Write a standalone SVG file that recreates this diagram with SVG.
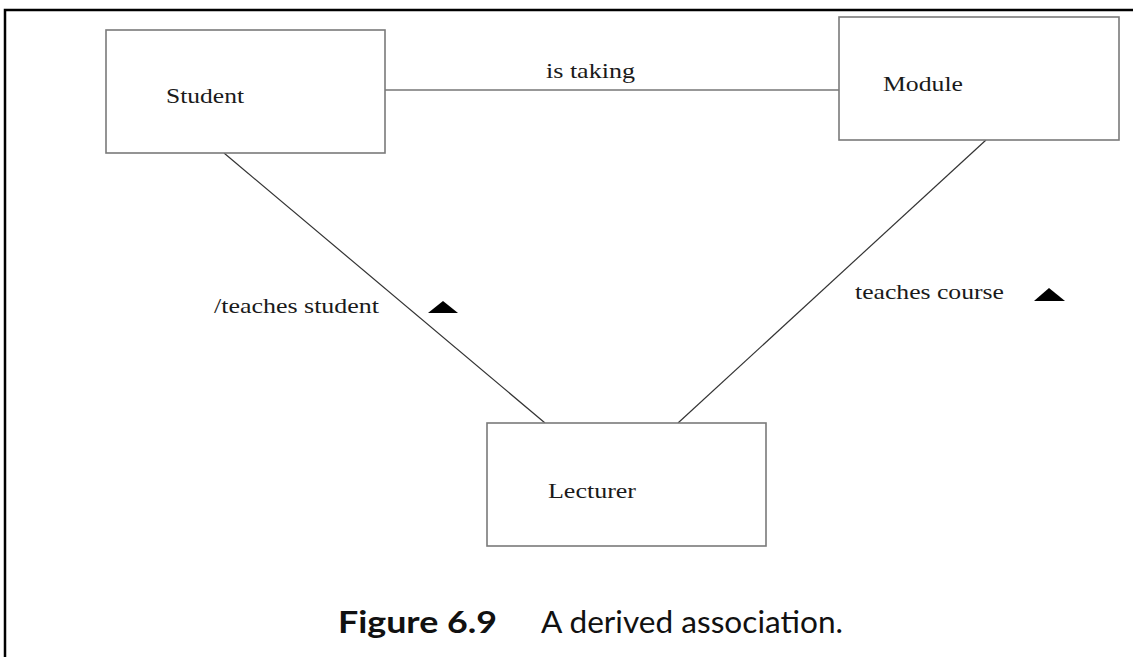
<svg xmlns="http://www.w3.org/2000/svg" width="1133" height="657" viewBox="0 0 1133 657">
  <style>
    .frame { fill: none; stroke: #000; stroke-width: 2.5; }
    .box { fill: #fff; stroke: #7a7a7a; stroke-width: 1.6; }
    .link { fill: none; stroke: #333; stroke-width: 1.2; }
    .label { font-family: "Liberation Serif", "Times New Roman", serif; font-size: 22px; fill: #1a1a1a; }
    .dir { fill: #000; }
    .cap { font-family: Lato, "Open Sans", "Liberation Sans", sans-serif; font-size: 31px; fill: #111; }
    .capb { font-weight: bold; }
  </style>

  <!-- page frame (top and left rules) -->
  <path class="frame" d="M5,657 V10 H1133"/>

  <!-- associations -->
  <g id="connectors">
    <line class="link" x1="385" y1="90" x2="839" y2="90"/>
    <line class="link" x1="224" y1="153" x2="545" y2="423"/>
    <line class="link" x1="986" y1="140" x2="678" y2="423"/>
    <text class="label" x="546" y="78" textLength="89" lengthAdjust="spacingAndGlyphs">is taking</text>
    <text class="label" x="214" y="313" textLength="165" lengthAdjust="spacingAndGlyphs">/teaches student</text>
    <polygon class="dir" points="428,313 443,301 458,313"/>
    <text class="label" x="855" y="299" textLength="149" lengthAdjust="spacingAndGlyphs">teaches course</text>
    <polygon class="dir" points="1034,301 1049,288 1065,301"/>
  </g>

  <g id="student">
    <rect class="box" x="106" y="30" width="279" height="123"/>
    <text class="label" x="166" y="103" textLength="78" lengthAdjust="spacingAndGlyphs">Student</text>
  </g>

  <g id="module">
    <rect class="box" x="839" y="17" width="280" height="123"/>
    <text class="label" x="883" y="91" textLength="80" lengthAdjust="spacingAndGlyphs">Module</text>
  </g>

  <g id="lecturer">
    <rect class="box" x="487" y="423" width="279" height="123"/>
    <text class="label" x="548" y="498" textLength="88" lengthAdjust="spacingAndGlyphs">Lecturer</text>
  </g>

  <!-- caption -->
  <g id="caption">
    <text class="cap capb" x="338" y="633" textLength="159" lengthAdjust="spacingAndGlyphs">Figure 6.9</text>
    <text class="cap" x="541" y="633" textLength="302" lengthAdjust="spacingAndGlyphs">A derived association.</text>
  </g>
</svg>
